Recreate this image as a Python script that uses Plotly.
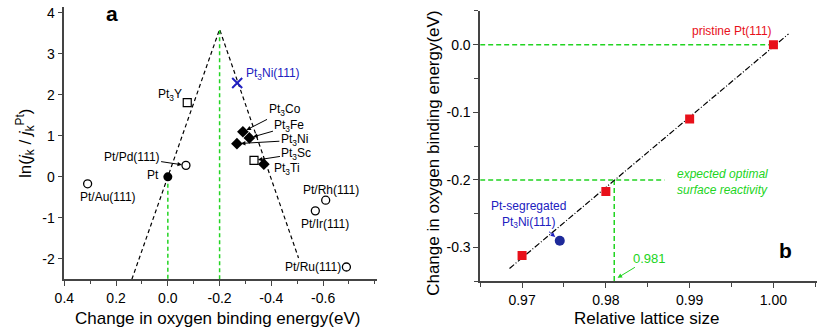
import plotly.graph_objects as go

# ---------------- Panel a data ----------------
open_circle_names = ["Pt/Au(111)", "Pt/Pd(111)", "Pt/Rh(111)", "Pt/Ir(111)", "Pt/Ru(111)"]
open_circle_x = [0.31, -0.07, -0.61, -0.57, -0.69]
open_circle_y = [-0.17, 0.28, -0.57, -0.83, -2.20]

pt_x = [0.0]
pt_y = [0.0]

open_square_names = ["Pt3Y", "Pt3Sc"]
open_square_x = [-0.075, -0.333]
open_square_y = [1.81, 0.40]

diamond_names = ["Pt3Co", "Pt3Fe", "Pt3Ni", "Pt3Ti"]
diamond_x = [-0.29, -0.315, -0.267, -0.371]
diamond_y = [1.10, 0.95, 0.81, 0.31]

pt3ni111_x = [-0.268]
pt3ni111_y = [2.29]

volcano_x = [0.139, -0.2, -0.505]
volcano_y = [-2.5, 3.6, -1.98]

green_a1_x = [0.0, 0.0]
green_a1_y = [0.0, -2.5]
green_a2_x = [-0.2, -0.2]
green_a2_y = [-2.5, 3.6]

a_xtick_vals = [0.4, 0.2, 0.0, -0.2, -0.4, -0.6]
a_xtick_text = ["0.4", "0.2", "0.0", "-0.2", "-0.4", "-0.6"]
a_ytick_vals = [4, 3, 2, 1, 0, -1, -2]
a_ytick_text = ["4", "3", "2", "1", "0", "-1", "-2"]

# ---------------- Panel b data ----------------
lattice = [0.97, 0.98, 0.99, 1.00]
dE = [-0.312, -0.217, -0.110, 0.0]

seg_x = [0.9745]
seg_y = [-0.290]

fit_x = [0.9685, 1.0018]
fit_y = [-0.331, 0.016]

green_b0_x = [0.965, 1.0]
green_b0_y = [0.0, 0.0]
green_b1_x = [0.965, 0.987]
green_b1_y = [-0.2, -0.2]
green_b2_x = [0.981, 0.981]
green_b2_y = [-0.2, -0.35]

b_xtick_vals = [0.97, 0.98, 0.99, 1.00]
b_xtick_text = ["0.97", "0.98", "0.99", "1.00"]
b_ytick_vals = [0.0, -0.1, -0.2, -0.3]
b_ytick_text = ["0.0", "-0.1", "-0.2", "-0.3"]

FONT = "Arial, Liberation Sans, sans-serif"
GREEN = "#22d422"
RED = "#e8101a"
BLUE_T = "#2020c0"
BLUE_C = "#1e2a9a"
AXC = "#444444"

fig = go.Figure()

# panel a lines
fig.add_trace(go.Scatter(x=volcano_x, y=volcano_y, mode="lines",
                         line=dict(color="black", width=1.2, dash="4px,3px"),
                         xaxis="x", yaxis="y"))
fig.add_trace(go.Scatter(x=green_a1_x, y=green_a1_y, mode="lines",
                         line=dict(color=GREEN, width=1.5, dash="4px,3px"),
                         xaxis="x", yaxis="y"))
fig.add_trace(go.Scatter(x=green_a2_x, y=green_a2_y, mode="lines",
                         line=dict(color=GREEN, width=1.5, dash="4px,3px"),
                         xaxis="x", yaxis="y"))
# panel a markers
fig.add_trace(go.Scatter(x=open_circle_x, y=open_circle_y, mode="markers",
                         marker=dict(symbol="circle-open", size=8, color="black",
                                     line=dict(width=1.3)),
                         xaxis="x", yaxis="y"))
fig.add_trace(go.Scatter(x=pt_x, y=pt_y, mode="markers",
                         marker=dict(symbol="circle", size=9, color="black"),
                         xaxis="x", yaxis="y"))
fig.add_trace(go.Scatter(x=open_square_x, y=open_square_y, mode="markers",
                         marker=dict(symbol="square-open", size=8, color="black",
                                     line=dict(width=1.2)),
                         xaxis="x", yaxis="y"))
fig.add_trace(go.Scatter(x=diamond_x, y=diamond_y, mode="markers",
                         marker=dict(symbol="diamond", size=9, color="black"),
                         xaxis="x", yaxis="y"))
fig.add_trace(go.Scatter(x=pt3ni111_x, y=pt3ni111_y, mode="markers",
                         marker=dict(symbol="x-thin-open", size=10, color=BLUE_T,
                                     line=dict(width=2, color=BLUE_T)),
                         xaxis="x", yaxis="y"))

# panel b lines
fig.add_trace(go.Scatter(x=green_b0_x, y=green_b0_y, mode="lines",
                         line=dict(color=GREEN, width=1.5, dash="5px,3px"),
                         xaxis="x2", yaxis="y2"))
fig.add_trace(go.Scatter(x=green_b1_x, y=green_b1_y, mode="lines",
                         line=dict(color=GREEN, width=1.5, dash="5px,3px"),
                         xaxis="x2", yaxis="y2"))
fig.add_trace(go.Scatter(x=green_b2_x, y=green_b2_y, mode="lines",
                         line=dict(color=GREEN, width=1.5, dash="5px,3px"),
                         xaxis="x2", yaxis="y2"))
fig.add_trace(go.Scatter(x=fit_x, y=fit_y, mode="lines",
                         line=dict(color="black", width=1.2, dash="6px,2px,1px,2px"),
                         xaxis="x2", yaxis="y2"))
fig.add_trace(go.Scatter(x=lattice, y=dE, mode="markers",
                         marker=dict(symbol="square", size=9, color=RED),
                         xaxis="x2", yaxis="y2"))
fig.add_trace(go.Scatter(x=seg_x, y=seg_y, mode="markers",
                         marker=dict(symbol="circle", size=10, color=BLUE_C),
                         xaxis="x2", yaxis="y2"))

ann = []
lab = dict(size=12, color="black", family=FONT)

def txt(x, y, t, xref="x", yref="y", font=None, xanchor="center", yanchor="middle", **kw):
    ann.append(dict(x=x, y=y, xref=xref, yref=yref, text=t, showarrow=False,
                    font=font or lab, xanchor=xanchor, yanchor=yanchor, **kw))

def arrow(x, y, tx, ty, t, xref="x", yref="y", font=None, color="black", standoff=4):
    ann.append(dict(x=x, y=y, xref=xref, yref=yref, ax=tx, ay=ty, axref=xref, ayref=yref,
                    text=t, showarrow=True, arrowhead=2, arrowsize=0.9, arrowwidth=1,
                    arrowcolor=color, standoff=standoff, font=font or lab))

# panel a labels
txt(-0.062, 2.0, "Pt<sub>3</sub>Y", xanchor="right")
txt(0.026, 0.05, "Pt", xanchor="right")
txt(0.232, -0.50, "Pt/Au(111)")
txt(-0.63, -0.31, "Pt/Rh(111)")
txt(-0.608, -1.14, "Pt/Ir(111)")
txt(-0.562, -2.19, "Pt/Ru(111)")
txt(-0.459, 0.19, "Pt<sub>3</sub>Ti")
txt(-0.405, 2.52, "Pt<sub>3</sub>Ni(111)", font=dict(size=12, color=BLUE_T, family=FONT))
arrow(open_circle_x[1], open_circle_y[1], 0.14, 0.48, "Pt/Pd(111)")
arrow(diamond_x[0], diamond_y[0], -0.451, 1.62, "Pt<sub>3</sub>Co")
arrow(diamond_x[1], diamond_y[1], -0.470, 1.23, "Pt<sub>3</sub>Fe")
arrow(diamond_x[2], diamond_y[2], -0.489, 0.89, "Pt<sub>3</sub>Ni")
arrow(open_square_x[1], open_square_y[1], -0.497, 0.56, "Pt<sub>3</sub>Sc")

# panel b labels
txt(0.995, 0.0206, "pristine Pt(111)", xref="x2", yref="y2",
    font=dict(size=12, color=RED, family=FONT))
txt(0.9882, -0.203, "<i>expected optimal<br>surface reactivity</i>", xref="x2", yref="y2",
    font=dict(size=12, color=GREEN, family=FONT), xanchor="left", align="left")
arrow(0.9813, -0.3456, 0.98524, -0.316, "0.981", xref="x2", yref="y2",
      font=dict(size=13, color=GREEN, family=FONT), color=GREEN, standoff=1)
arrow(seg_x[0], seg_y[0], 0.9708, -0.2515, "Pt-segregated<br>Pt<sub>3</sub>Ni(111)", xref="x2", yref="y2",
      font=dict(size=12, color=BLUE_T, family=FONT), color=BLUE_T, standoff=6)

# panel letters
txt(103 / 817, 1 - 12 / 328, "<b>a</b>", xref="paper", yref="paper",
    font=dict(size=21, color="black", family=FONT))
txt(785 / 817, 1 - 250 / 328, "<b>b</b>", xref="paper", yref="paper",
    font=dict(size=21, color="black", family=FONT))

# axis titles
tfont = dict(size=17, color="black", family=FONT)
txt(210 / 817, 1 - 318 / 328, "Change in oxygen binding energy(eV)", xref="paper", yref="paper", font=tfont)
txt(645 / 817, 1 - 318 / 328, "Relative lattice size", xref="paper", yref="paper", font=tfont)
txt(15 / 817, 1 - 142 / 328, "ln(<i>j</i><sub>k</sub> / <i>j</i><sub>k</sub><sup>Pt</sup>)",
    xref="paper", yref="paper", font=tfont, textangle=-90)
txt(428 / 817, 1 - 152 / 328, "Change in oxygen binding energy(eV)", xref="paper", yref="paper",
    font=tfont, textangle=-90)

tickfont = dict(size=14, color="black", family=FONT)
axcommon = dict(showgrid=False, zeroline=False, showline=True, linecolor=AXC, linewidth=1.5,
                ticks="outside", ticklen=5, tickwidth=1.2, tickcolor=AXC, tickfont=tickfont,
                tickmode="array", fixedrange=True, ticklabeloverflow="allow")

fig.update_layout(
    width=817, height=328,
    margin=dict(l=0, r=0, t=0, b=0),
    paper_bgcolor="white", plot_bgcolor="white",
    showlegend=False,
    font=dict(family=FONT),
    annotations=ann,
    xaxis=dict(domain=[55 / 817, 372 / 817], range=[0.4, -0.81], anchor="y",
               tickvals=a_xtick_vals, ticktext=a_xtick_text,
               minor=dict(dtick=0.1, tick0=0, ticks="outside", ticklen=3, tickcolor=AXC),
               **axcommon),
    yaxis=dict(domain=[1 - 279 / 328, 1 - 4.8 / 328], range=[-2.5, 4.15], anchor="x",
               tickvals=a_ytick_vals, ticktext=a_ytick_text, **axcommon),
    xaxis2=dict(domain=[476 / 817, 1.0], range=[0.965, 1.0052], anchor="y2",
                tickvals=b_xtick_vals, ticktext=b_xtick_text,
                minor=dict(dtick=0.005, tick0=0.965, ticks="outside", ticklen=4, tickcolor=AXC),
                **axcommon),
    yaxis2=dict(domain=[1 - 281 / 328, 1 - 9 / 328], range=[-0.35, 0.05], anchor="x2",
                tickvals=b_ytick_vals, ticktext=b_ytick_text,
                minor=dict(dtick=0.05, tick0=0, ticks="outside", ticklen=4, tickcolor=AXC),
                **axcommon),
)

post = ("document.documentElement.style.margin='0';"
        "document.body.style.margin='0';document.body.style.padding='0';"
        "document.body.style.overflow='hidden';"
        "var d=document.getElementById('{plot_id}');"
        "d.style.position='absolute';d.style.top='0px';d.style.left='0px';"
        "window.scrollTo(0,0);")

fig.write_html("out.html", config={"displayModeBar": False}, post_script=post)
